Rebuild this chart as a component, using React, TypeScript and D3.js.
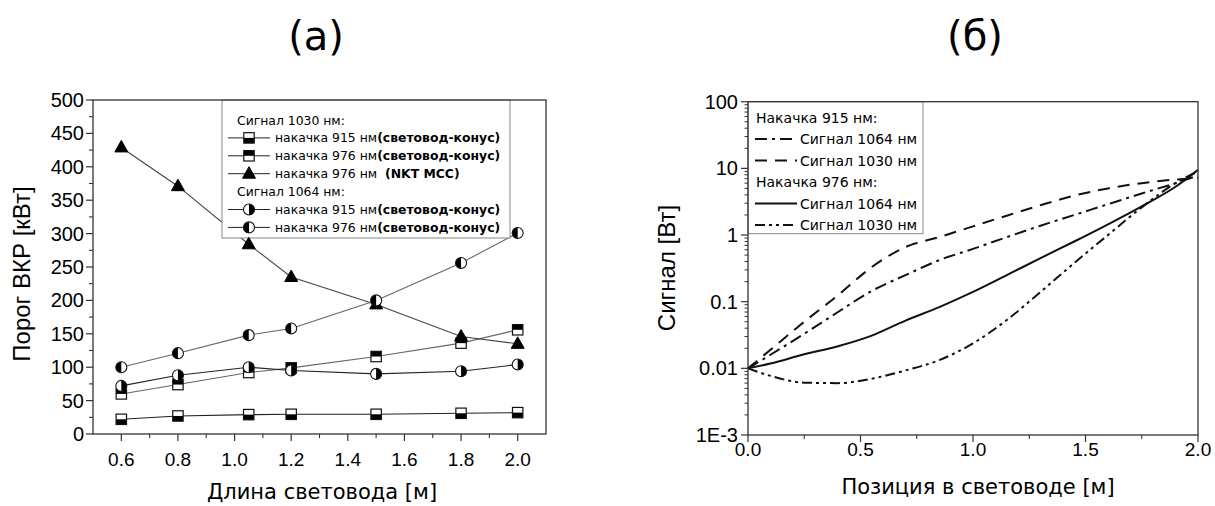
import React from 'react';
import * as d3 from 'd3';

// ---------- Chart (а) data ----------
const lengthsA = [0.6, 0.8, 1.05, 1.2, 1.5, 1.8, 2.0];
const s1030p915 = [22, 27, 29, 29.5, 29.5, 31, 32];
const s1030p976 = [60, 74, 92, 99, 116, 136, 156];
const s1030nkt = [429, 371, 284, 235, 194, 146, 135];
const s1064p915 = [72, 88, 100, 95, 90, 94, 104];
const s1064p976 = [100, 121, 148, 158, 200, 256, 301];
const xTicksA = [0.6, 0.8, 1.0, 1.2, 1.4, 1.6, 1.8, 2.0];
const xMinorA = [0.7, 0.9, 1.1, 1.3, 1.5, 1.7, 1.9];
const yTicksA = [0, 50, 100, 150, 200, 250, 300, 350, 400, 450, 500];
const yMinorA = [25, 75, 125, 175, 225, 275, 325, 375, 425, 475];

// ---------- Chart (б) data ----------
const posB = [0, 0.1, 0.25, 0.4, 0.55, 0.7, 0.85, 1.0, 1.15, 1.3, 1.45, 1.6, 1.75, 1.9, 2.0];
const p915s1064 = [0.01, 0.016, 0.033, 0.07, 0.145, 0.25, 0.42, 0.62, 0.93, 1.38, 2.0, 2.9, 4.2, 6.0, 7.8];
const p915s1030 = [0.01, 0.019, 0.05, 0.125, 0.33, 0.66, 0.93, 1.35, 1.95, 2.8, 3.9, 5.0, 6.0, 6.8, 7.2];
const p976s1064 = [0.01, 0.0118, 0.0163, 0.0215, 0.031, 0.052, 0.083, 0.14, 0.25, 0.45, 0.8, 1.45, 2.7, 5.3, 9.5];
const p976s1030 = [0.01, 0.0077, 0.0061, 0.006, 0.007, 0.0093, 0.0133, 0.0237, 0.053, 0.14, 0.38, 1.0, 2.6, 6.0, 9.0];
const xTicksB = [0, 0.5, 1.0, 1.5, 2.0];
const xTickLabelsB = ['0.0', '0.5', '1.0', '1.5', '2.0'];
const xMinorB = [0.25, 0.75, 1.25, 1.75];
const yTicksB = [0.001, 0.01, 0.1, 1, 10, 100];
const yTickLabelsB = ['1E-3', '0.01', '0.1', '1', '10', '100'];

const ARIAL = 'Liberation Sans, Arial, sans-serif';
const VERD = 'DejaVu Sans, Verdana, sans-serif';
const AX = '#333';

const xA = d3.scaleLinear().domain([0.5, 2.1]).range([93, 546]);
const yA = d3.scaleLinear().domain([0, 500]).range([434, 100]);
const xB = d3.scaleLinear().domain([0, 2]).range([748, 1198]);
const yB = d3.scaleLog().domain([0.001, 100]).range([435, 101.7]);

type MType = 'sqBottom' | 'sqTop' | 'tri' | 'circRight' | 'circLeft';

function Marker({ type, x, y }: { type: MType; x: number; y: number }) {
  const s = 5.2;
  if (type === 'sqBottom' || type === 'sqTop') {
    return (
      <g>
        <rect x={x - s} y={y - s} width={2 * s} height={2 * s} fill="white" />
        <rect x={x - s} y={type === 'sqBottom' ? y : y - s} width={2 * s} height={s} fill="black" />
        <rect x={x - s} y={y - s} width={2 * s} height={2 * s} fill="none" stroke="#111" strokeWidth={1.2} />
      </g>
    );
  }
  if (type === 'tri') {
    return <polygon points={`${x},${y - 7} ${x - 6.5},${y + 4.5} ${x + 6.5},${y + 4.5}`} fill="black" stroke="black" strokeWidth={1} />;
  }
  const r = 5.5;
  const sweep = type === 'circRight' ? 1 : 0;
  return (
    <g>
      <circle cx={x} cy={y} r={r} fill="white" />
      <path d={`M${x},${y - r} A${r},${r} 0 0 ${sweep} ${x},${y + r} Z`} fill="black" />
      <circle cx={x} cy={y} r={r} fill="none" stroke="#111" strokeWidth={1.1} />
    </g>
  );
}

const seriesA: { vals: number[]; m: MType; col: string }[] = [
  { vals: s1030p915, m: 'sqBottom', col: '#222' },
  { vals: s1030p976, m: 'sqTop', col: '#666' },
  { vals: s1030nkt, m: 'tri', col: '#444' },
  { vals: s1064p915, m: 'circRight', col: '#222' },
  { vals: s1064p976, m: 'circLeft', col: '#666' },
];

const lineA = d3.line<[number, number]>().x(d => xA(d[0])).y(d => yA(d[1]));
const lineB = d3
  .line<[number, number]>()
  .x(d => xB(d[0]))
  .y(d => yB(d[1]))
  .curve(d3.curveMonotoneX);

const seriesB = [
  { vals: p915s1064, dash: '12 5 3 5', label: 'Сигнал 1064 нм' },
  { vals: p915s1030, dash: '12 8', label: 'Сигнал 1030 нм' },
  { vals: p976s1064, dash: '', label: 'Сигнал 1064 нм' },
  { vals: p976s1030, dash: '10 4 3 4 3 4', label: 'Сигнал 1030 нм' },
];

export default function App() {
  const [x0, x1] = xA.range();
  const [y0, y1] = yA.range();
  const [bx0, bx1] = xB.range();
  const [by0, by1] = yB.range();

  const minorLogB: number[] = [];
  [0.001, 0.01, 0.1, 1, 10].forEach(d => {
    for (let k = 2; k <= 9; k++) minorLogB.push(d * k);
  });

  const legA = [
    { kind: 'h', text: 'Сигнал 1030 нм:' },
    { kind: 'r', m: 'sqBottom' as MType, text: 'накачка 915 нм', bold: '(световод-конус)' },
    { kind: 'r', m: 'sqTop' as MType, text: 'накачка 976 нм', bold: '(световод-конус)' },
    { kind: 'r', m: 'tri' as MType, text: 'накачка 976 нм  ', bold: '(NKT MCC)' },
    { kind: 'h', text: 'Сигнал 1064 нм:' },
    { kind: 'r', m: 'circRight' as MType, text: 'накачка 915 нм', bold: '(световод-конус)' },
    { kind: 'r', m: 'circLeft' as MType, text: 'накачка 976 нм', bold: '(световод-конус)' },
  ];

  const legB = [
    { kind: 'h', text: 'Накачка 915 нм:' },
    { kind: 'r', s: seriesB[0] },
    { kind: 'r', s: seriesB[1] },
    { kind: 'h', text: 'Накачка 976 нм:' },
    { kind: 'r', s: seriesB[2] },
    { kind: 'r', s: seriesB[3] },
  ];

  return (
    <svg width={1215} height={506} style={{ position: 'absolute', left: 0, top: 0, background: 'white' }}>
      <rect x={0} y={0} width={1215} height={506} fill="white" />
      {/* Titles */}
      <text x={316} y={50} fontFamily={VERD} fontSize={40} textAnchor="middle">(а)</text>
      <text x={975} y={50} fontFamily={VERD} fontSize={40} textAnchor="middle">(б)</text>

      {/* ===== Chart A ===== */}
      {seriesA.map((s, i) => (
        <path key={i} d={lineA(lengthsA.map((x, j) => [x, s.vals[j]]) as [number, number][]) || ''} fill="none" stroke={s.col} strokeWidth={1.1} />
      ))}
      {/* legend A */}
      <rect x={222} y={y1} width={288} height={138} fill="white" stroke="#888" strokeWidth={1} />
      {legA.map((r, i) => {
        const cy = 120 + i * 17.9;
        if (r.kind === 'h')
          return (
            <text key={i} x={237} y={cy + 4.5} fontFamily={VERD} fontSize={12.4}>{r.text}</text>
          );
        return (
          <g key={i}>
            <line x1={228} x2={270} y1={cy} y2={cy} stroke="#222" strokeWidth={1} />
            <Marker type={r.m!} x={249} y={cy} />
            <text x={275} y={cy + 4.5} fontFamily={VERD} fontSize={12.4} style={{ whiteSpace: 'pre' }}>
              {r.text}
              <tspan fontWeight="bold">{r.bold}</tspan>
            </text>
          </g>
        );
      })}
      {seriesA.map((s, i) => (
        <g key={i}>
          {lengthsA.map((x, j) => (
            <Marker key={j} type={s.m} x={xA(x)} y={yA(s.vals[j])} />
          ))}
        </g>
      ))}
      {/* frame A */}
      <rect x={x0} y={y1} width={x1 - x0} height={y0 - y1} fill="none" stroke={AX} strokeWidth={1.3} />
      {xTicksA.map((t, i) => (
        <g key={i}>
          <line x1={xA(t)} x2={xA(t)} y1={y0} y2={y0 + 7} stroke={AX} strokeWidth={1.2} />
          <text x={xA(t)} y={466} fontFamily={ARIAL} fontSize={19} textAnchor="middle">{t.toFixed(1)}</text>
        </g>
      ))}
      {xMinorA.map((t, i) => (
        <line key={i} x1={xA(t)} x2={xA(t)} y1={y0} y2={y0 + 4} stroke={AX} strokeWidth={1.1} />
      ))}
      {yTicksA.map((t, i) => (
        <g key={i}>
          <line x1={x0 - 7} x2={x0} y1={yA(t)} y2={yA(t)} stroke={AX} strokeWidth={1.2} />
          <text x={x0 - 9} y={yA(t) + 7} fontFamily={ARIAL} fontSize={20} textAnchor="end">{t}</text>
        </g>
      ))}
      {yMinorA.map((t, i) => (
        <line key={i} x1={x0 - 4} x2={x0} y1={yA(t)} y2={yA(t)} stroke={AX} strokeWidth={1.1} />
      ))}
      <text x={322} y={499} fontFamily={VERD} fontSize={21} textAnchor="middle">Длина световода [м]</text>
      <text transform={`translate(30,274) rotate(-90)`} fontFamily={ARIAL} fontSize={24} textAnchor="middle">Порог ВКР [кВт]</text>

      {/* ===== Chart B ===== */}
      {seriesB.map((s, i) => (
        <path key={i} d={lineB(posB.map((x, j) => [x, s.vals[j]]) as [number, number][]) || ''} fill="none" stroke="#111" strokeWidth={2} strokeDasharray={s.dash || undefined} />
      ))}
      {/* legend B */}
      <rect x={bx0} y={by1} width={175} height={132} fill="white" stroke="#888" strokeWidth={1} />
      {legB.map((r, i) => {
        const cy = 117.5 + i * 21.5;
        if (r.kind === 'h')
          return (
            <text key={i} x={756} y={cy + 5} fontFamily={VERD} fontSize={14}>{r.text}</text>
          );
        return (
          <g key={i}>
            <line x1={755} x2={797} y1={cy} y2={cy} stroke="#111" strokeWidth={2} strokeDasharray={r.s!.dash || undefined} />
            <text x={800} y={cy + 5} fontFamily={VERD} fontSize={14}>{r.s!.label}</text>
          </g>
        );
      })}
      {/* frame B */}
      <rect x={bx0} y={by1} width={bx1 - bx0} height={by0 - by1} fill="none" stroke={AX} strokeWidth={1.3} />
      {xTicksB.map((t, i) => (
        <g key={i}>
          <line x1={xB(t)} x2={xB(t)} y1={by0} y2={by0 + 7} stroke={AX} strokeWidth={1.2} />
          <text x={xB(t)} y={456} fontFamily={ARIAL} fontSize={19} textAnchor="middle">{xTickLabelsB[i]}</text>
        </g>
      ))}
      {xMinorB.map((t, i) => (
        <line key={i} x1={xB(t)} x2={xB(t)} y1={by0} y2={by0 + 4} stroke={AX} strokeWidth={1.1} />
      ))}
      {yTicksB.map((t, i) => (
        <g key={i}>
          <line x1={bx0 - 7} x2={bx0} y1={yB(t)} y2={yB(t)} stroke={AX} strokeWidth={1.2} />
          <text x={bx0 - 10} y={yB(t) + 7} fontFamily={ARIAL} fontSize={20} textAnchor="end">{yTickLabelsB[i]}</text>
        </g>
      ))}
      {minorLogB.map((t, i) => (
        <line key={i} x1={bx0 - 3.5} x2={bx0} y1={yB(t)} y2={yB(t)} stroke={AX} strokeWidth={1} />
      ))}
      <text x={978} y={494} fontFamily={VERD} fontSize={21} textAnchor="middle">Позиция в световоде [м]</text>
      <text transform={`translate(675,268) rotate(-90)`} fontFamily={ARIAL} fontSize={24} textAnchor="middle">Сигнал [Вт]</text>
    </svg>
  );
}
